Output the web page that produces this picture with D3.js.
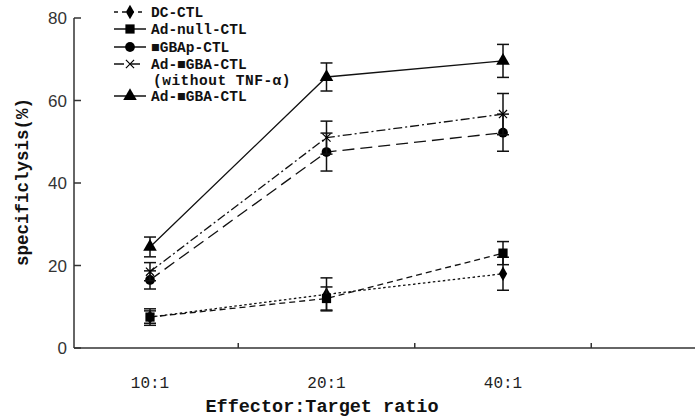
<!DOCTYPE html>
<html><head><meta charset="utf-8">
<script src="https://cdn.jsdelivr.net/npm/d3@7"></script>
<style>body{margin:0;background:#fff}svg{display:block}</style>
</head><body>
<svg id="c" width="696" height="418"></svg>
<script>
const categories = ["10:1", "20:1", "40:1"];
const yTicks = [0, 20, 40, 60, 80];
const seriesNames = ["DC-CTL", "Ad-null-CTL", "■GBAp-CTL", "Ad-■GBA-CTL", "Ad-■GBA-CTL"];
const dcVals = [7.5, 13, 18],     dcErr = [1.5, 4, 4];
const nullVals = [7.5, 12, 23],   nullErr = [2, 2.8, 2.8];
const gbapVals = [16.5, 47.5, 52.2], gbapErr = [2.2, 4.6, 4.5];
const woVals = [18.5, 51, 56.7],  woErr = [2.2, 4, 5];
const adVals = [24.5, 65.7, 69.6], adErr = [2.4, 3.4, 4];

const svg = d3.select("#c");
const x = d3.scalePoint().domain(categories).range([150, 503]);
const y = d3.scaleLinear().domain([0, 80]).range([348, 18]);
const cx = c => x(c);

const series = [
  {name: seriesNames[0], vals: dcVals, err: dcErr, dash: "2.5,2.5", marker: "diamond"},
  {name: seriesNames[1], vals: nullVals, err: nullErr, dash: "6,4", marker: "square"},
  {name: seriesNames[2], vals: gbapVals, err: gbapErr, dash: "12,6", marker: "circle"},
  {name: seriesNames[3], vals: woVals, err: woErr, dash: "9,3,2,3", marker: "cross"},
  {name: seriesNames[4], vals: adVals, err: adErr, dash: null, marker: "triangle"}
];

const symType = {diamond: d3.symbolDiamond, square: d3.symbolSquare, circle: d3.symbolCircle, cross: d3.symbolTimes, triangle: d3.symbolTriangle};
const symSize = {diamond: 60, square: 85, circle: 75, cross: 45, triangle: 80};

function drawMarker(g, m, px, py) {
  const p = g.append("path")
    .attr("d", d3.symbol().type(symType[m]).size(symSize[m])())
    .attr("transform", `translate(${px},${py})`);
  if (m === "cross") p.attr("fill", "none").attr("stroke", "#000").attr("stroke-width", 1.2);
  else p.attr("fill", "#000");
}

// axes
const axG = svg.append("g");
axG.append("line").attr("x1", 74).attr("x2", 74).attr("y1", y(80)).attr("y2", y(0)).attr("stroke", "#333").attr("stroke-width", 1.5);
axG.append("line").attr("x1", 74).attr("x2", 695).attr("y1", y(0)).attr("y2", y(0)).attr("stroke", "#333").attr("stroke-width", 1.5);
yTicks.forEach(t => {
  axG.append("line").attr("x1", 74).attr("x2", 81).attr("y1", y(t)).attr("y2", y(t)).attr("stroke", "#333").attr("stroke-width", 1.5);
  axG.append("text").attr("x", 67).attr("y", y(t)).attr("dy", "0.36em").attr("text-anchor", "end")
    .attr("font-family", "Liberation Sans, Arial, sans-serif").attr("font-size", 17).attr("fill", "#333").text(t);
});
categories.forEach(c => {
  const xe = x(c) + x.step() / 2;
  axG.append("line").attr("x1", xe).attr("x2", xe).attr("y1", y(0)).attr("y2", y(0) - 5).attr("stroke", "#333").attr("stroke-width", 1.5);
  axG.append("text").attr("x", cx(c)).attr("y", 388).attr("text-anchor", "middle")
    .attr("font-family", "Liberation Mono, monospace").attr("font-size", 16).attr("fill", "#222").text(c);
});
svg.append("text").attr("x", 322).attr("y", 412).attr("text-anchor", "middle")
  .attr("font-family", "Liberation Mono, monospace").attr("font-weight", "bold").attr("font-size", 18.5).attr("fill", "#111")
  .text("Effector:Target ratio");
svg.append("text").attr("transform", "translate(22,182) rotate(-90)").attr("text-anchor", "middle")
  .attr("dy", "0.35em")
  .attr("font-family", "Liberation Mono, monospace").attr("font-weight", "bold").attr("font-size", 17.5).attr("fill", "#111")
  .text("specificlysis(%)");

// series
const line = d3.line().x((d, i) => cx(categories[i])).y(d => y(d));
series.forEach(s => {
  const g = svg.append("g");
  g.append("path").attr("d", line(s.vals)).attr("fill", "none").attr("stroke", "#111").attr("stroke-width", 1.3)
    .attr("stroke-dasharray", s.dash);
  s.vals.forEach((v, i) => {
    const px = cx(categories[i]);
    const y1 = y(v + s.err[i]), y2 = y(v - s.err[i]);
    g.append("line").attr("x1", px).attr("x2", px).attr("y1", y1).attr("y2", y2).attr("stroke", "#111").attr("stroke-width", 1.5);
    [y1, y2].forEach(yy => g.append("line").attr("x1", px - 6).attr("x2", px + 6).attr("y1", yy).attr("y2", yy).attr("stroke", "#111").attr("stroke-width", 1.5));
    drawMarker(g, s.marker, px, y(v));
  });
});

// legend
const legRows = [12, 29, 47, 64, 96];
const lg = svg.append("g");
series.forEach((s, i) => {
  const ly = legRows[i];
  lg.append("line").attr("x1", 114).attr("x2", 146).attr("y1", ly).attr("y2", ly).attr("stroke", "#111").attr("stroke-width", 1.5)
    .attr("stroke-dasharray", s.dash ? (i === 0 ? "4,4" : i === 3 ? "10,6" : null) : null);
  drawMarker(lg, s.marker, 130, ly);
  lg.append("text").attr("x", 151).attr("y", ly).attr("dy", "0.36em")
    .attr("font-family", "Liberation Mono, monospace").attr("font-weight", "bold").attr("font-size", 14.5).attr("fill", "#111")
    .text(s.name);
});
lg.append("text").attr("x", 153).attr("y", 80).attr("dy", "0.36em")
  .attr("font-family", "Liberation Mono, monospace").attr("font-weight", "bold").attr("font-size", 14.5).attr("fill", "#111")
  .attr("letter-spacing", 0.5)
  .text("(without TNF-α)");
</script>
</body></html>
